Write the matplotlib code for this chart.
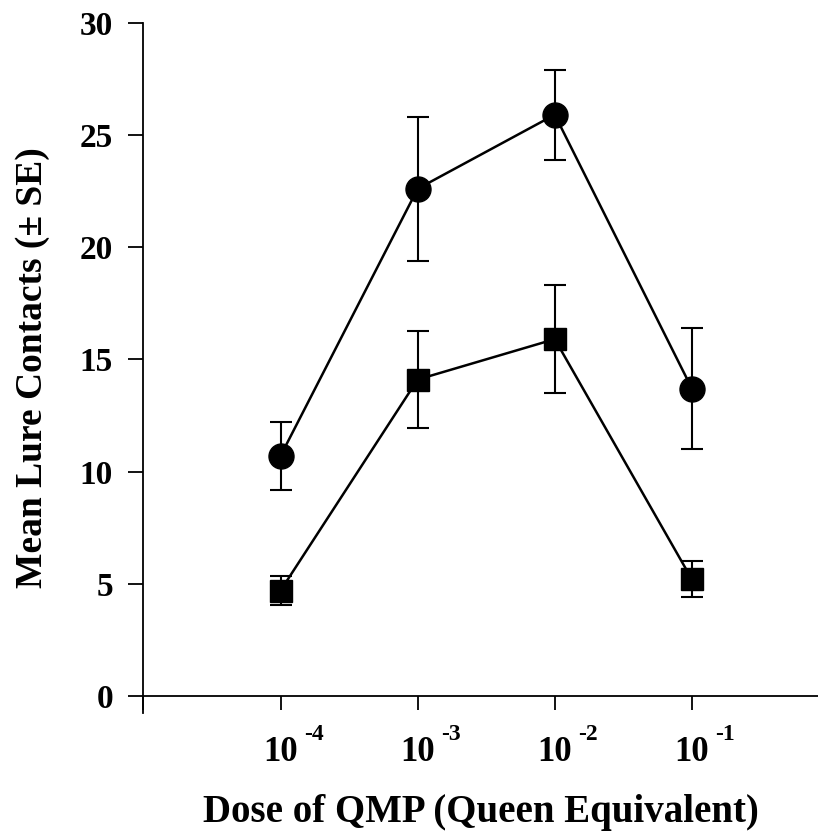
import numpy as np
import matplotlib
matplotlib.use("Agg")
import matplotlib.pyplot as plt

plt.rcParams['font.family'] = ['Liberation Serif', 'DejaVu Serif']
plt.rcParams['font.weight'] = 'bold'

# data
dose_exp = ["-4", "-3", "-2", "-1"]
circle_mean = [10.7, 22.6, 25.9, 13.7]
circle_se = [1.5, 3.2, 2.0, 2.7]
square_mean = [4.7, 14.1, 15.9, 5.2]
square_se = [0.65, 2.15, 2.4, 0.8]

x = np.arange(1, len(dose_exp) + 1)

fig = plt.figure(figsize=(8.18, 8.34), dpi=100)
ax = fig.add_axes([0.1754, 0.1453, (818 - 143.5) / 818, 0.8275])

ax.errorbar(x, circle_mean, yerr=circle_se, fmt='-o', color='black', ms=18,
            lw=1.8, elinewidth=1.5, capsize=8, capthick=1.5)
ax.errorbar(x, square_mean, yerr=square_se, fmt='-s', color='black', ms=16,
            lw=1.8, elinewidth=1.5, capsize=8, capthick=1.5)

ax.set_xlim(0, 4.92)
ax.set_ylim(-0.75, 30)
ax.spines['bottom'].set_position(('data', 0))
ax.spines['top'].set_visible(False)
ax.spines['right'].set_visible(False)
ax.spines['left'].set_linewidth(1.3)
ax.spines['bottom'].set_linewidth(1.3)

ax.set_yticks(range(0, 31, 5))
ax.set_xticks(np.arange(0, 5))
ax.set_xticklabels([""] + ["10"] * len(dose_exp))
ax.tick_params(axis='y', length=11, width=1.3, labelsize=24, pad=11)
ax.tick_params(axis='x', length=10, width=1.3, labelsize=25, pad=19)

# exponents drawn as raised small text next to the "10"
for xi, e in zip(x, dose_exp):
    ax.annotate(e, xy=(xi, 0), xycoords='data', xytext=(17, -31.7),
                textcoords='offset points', ha='left', va='baseline',
                fontsize=17, fontweight='bold', annotation_clip=False)

ax.set_ylabel("Mean Lure Contacts (\u00b1 SE)", fontsize=27, fontweight='bold')
ax.yaxis.set_label_coords(-0.1505, 0.5)
ax.yaxis.label.set_va('baseline')
ax.set_xlabel("Dose of QMP (Queen Equivalent)", fontsize=28, fontweight='bold')
ax.xaxis.set_label_coords(0.5, -0.158)
ax.xaxis.label.set_va('baseline')

plt.savefig("out.png", dpi=100)
